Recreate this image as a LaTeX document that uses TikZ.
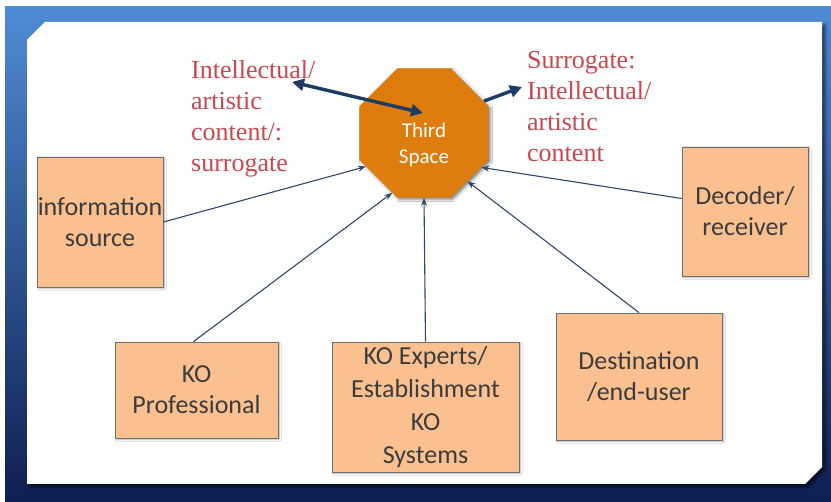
\documentclass[tikz,border=0pt]{standalone}
\usepackage{fontspec}
\setmainfont{Liberation Serif}
\newfontfamily\calfont{Carlito}
\usepackage{tikz}
\usetikzlibrary{positioning, arrows.meta, shapes.geometric, shadows.blur}
\usepackage{xcolor}
\definecolor{slidetop}{RGB}{78, 140, 212}
\definecolor{slidebot}{RGB}{14, 30, 80}
\definecolor{boxorange}{RGB}{250, 192, 144}
\definecolor{boxline}{RGB}{110, 110, 110}
\definecolor{boxtext}{RGB}{60, 60, 60}
\definecolor{octorange}{RGB}{222, 124, 14}
\definecolor{labelred}{RGB}{204, 70, 78}
\definecolor{arrownavy}{RGB}{28, 60, 100}
\definecolor{thinnavy}{RGB}{45, 72, 110}

\begin{document}
\begin{tikzpicture}[x=1pt, y=-1pt,
    kobox/.style={draw=boxline, fill=boxorange, line width=0.8pt, text=boxtext,
                  align=center, inner sep=0pt,
                  font=\calfont\fontsize{26}{31}\selectfont,
                  blur shadow={shadow xshift=1.5pt, shadow yshift=-1.5pt,
                               shadow blur radius=1.5pt, shadow opacity=30}},
    redtext/.style={text=labelred, align=left, inner sep=0pt,
                    font=\fontsize{26}{31}\selectfont},
    thinarrow/.style={-{Stealth[length=8pt, width=6pt]}, draw=thinnavy, line width=1.1pt},
    thickarrow/.style={draw=arrownavy, line width=3.4pt}]
        \useasboundingbox (0,0) rectangle (831,502);
        \fill[white] (0,0) rectangle (831,502);
        % Slide frame
        \fill[top color=slidetop, bottom color=slidebot] (5,7) rectangle (831,502);
        \fill[white, blur shadow={shadow xshift=3pt, shadow yshift=-3pt,
                                  shadow blur radius=3pt, shadow opacity=60}]
              (27,40) -- (45,22) -- (822,22) -- (822,467) -- (805,484)
              -- (27,484) -- cycle;
        % Third space
        \node[regular polygon, regular polygon sides=8, minimum size=140pt,
              inner sep=0pt, fill=octorange,
              blur shadow={shadow xshift=2pt, shadow yshift=-2pt,
                           shadow blur radius=2pt, shadow opacity=45},
              label={[text=white, align=center, yshift=-12pt,
                      font=\calfont\fontsize{21}{26}\selectfont]center:Third\\Space}] (oct)
              at (424,133) {};
        % Labels
        \node[redtext, anchor=west] (inlabel) at (191,119)
              {Intellectual/\\artistic\\content/:\\surrogate};
        \node[redtext, anchor=west] (outlabel) at (527,107)
              {Surrogate:\\Intellectual/\\artistic\\content};
        % Boxes
        \node[kobox, minimum width=126pt, minimum height=130pt] (source)
              at (100,222) {information\\source};
        \node[kobox, minimum width=163pt, minimum height=96pt] (prof)
              at (196.5,390) {KO\\Professional};
        \node[kobox, minimum width=187pt, minimum height=130pt,
              font=\calfont\fontsize{26}{33}\selectfont] (experts)
              at (425.5,407) {KO Experts/\\Establishment\\KO\\Systems};
        \node[kobox, minimum width=166pt, minimum height=127pt] (dest)
              at (639,376.5) {Destination\\/end-user};
        \node[kobox, minimum width=126pt, minimum height=129pt] (decoder)
              at (745,211.5) {Decoder/\\receiver};
        % Thick arrows
        \coordinate (intip) at (292,82);
        \coordinate (midtip) at (423,113);
        \coordinate (outtip) at (522,87);
        \draw[thickarrow, {Triangle[length=12pt, width=12pt]}-{Triangle[length=12pt, width=12pt]}]
              (intip) -- (midtip);
        \draw[thickarrow, -{Triangle[length=12pt, width=12pt]}] (oct.28) -- (outtip);
        % Thin arrows
        \draw[thinarrow] (source.east) -- (oct.210);
        \draw[thinarrow] ([xshift=-3pt]prof.north) -- (oct.242);
        \draw[thinarrow] (experts.north) -- (oct.270);
        \draw[thinarrow] (dest.north) -- (oct.312);
        \draw[thinarrow] ([yshift=13pt]decoder.west) -- (oct.329);
      \end{tikzpicture}
\end{document}
